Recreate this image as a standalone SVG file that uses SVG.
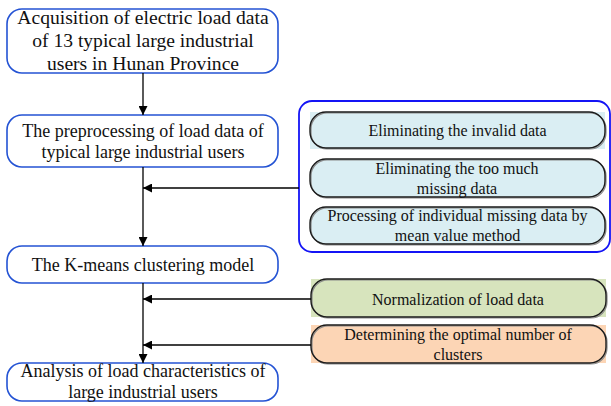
<svg xmlns="http://www.w3.org/2000/svg" width="611" height="406" viewBox="0 0 611 406">
<style>
text{font-family:"Liberation Serif","Times New Roman",serif;fill:#111;text-anchor:middle}
.l{font-size:18px}
.t{font-size:19.6px}
.r{font-size:16px}
.main{fill:#fff;stroke:#2453d4;stroke-width:1.6}
.cont{fill:#fff;stroke:#1414f5;stroke-width:1.8}
.pill{fill:none;stroke:#1a1a1a;stroke-width:1.4}
.sh{fill:none;stroke:#8a8a8a;stroke-width:1.2}
.c{stroke:#000;stroke-width:1.3;fill:none}
</style>
<defs>
<marker id="ah" viewBox="0 0 10 10" refX="10" refY="5" markerWidth="10" markerHeight="9" markerUnits="userSpaceOnUse" orient="auto">
<path d="M0,0 L10,5 L0,10 z" fill="#000"/>
</marker>
</defs>
<rect width="611" height="406" fill="#fff"/>

<g id="container">
<rect class="cont" x="299" y="101" width="311" height="151" rx="13"/>
</g>

<g id="n1">
<rect class="main" x="7" y="9" width="271" height="64" rx="15"/>
<text class="t" x="143" y="24">Acquisition of electric load data</text>
<text class="t" x="143" y="47">of 13 typical large industrial</text>
<text class="t" x="143" y="70">users in Hunan Province</text>
</g>

<g id="n2">
<rect class="main" x="7" y="115" width="271" height="52" rx="15"/>
<text class="l" x="143" y="137">The preprocessing of load data of</text>
<text class="l" x="143" y="158">typical large industrial users</text>
</g>

<g id="n3">
<rect class="main" x="7" y="246" width="271" height="37" rx="15"/>
<text class="l" x="143" y="271">The K-means clustering model</text>
</g>

<g id="n4">
<rect class="main" x="7" y="363" width="271" height="38" rx="15"/>
<text class="l" x="143" y="377">Analysis of load characteristics of</text>
<text class="l" x="143" y="398">large industrial users</text>
</g>

<g id="r1">
<rect x="310" y="112" width="295" height="37" fill="#daeef3"/>
<rect class="sh" x="311" y="113" width="295" height="36" rx="16"/>
<rect class="pill" x="310" y="112" width="295" height="36" rx="16"/>
<text class="r" x="457.5" y="136">Eliminating the invalid data</text>
</g>

<g id="r2">
<rect x="310" y="159" width="295" height="38" rx="16" fill="#daeef3"/>
<rect class="sh" x="311" y="160" width="295" height="38" rx="16"/>
<rect class="pill" x="310" y="159" width="295" height="38" rx="16"/>
<text class="r" x="457" y="174">Eliminating the too much</text>
<text class="r" x="457" y="194">missing data</text>
</g>

<g id="r3">
<rect x="310" y="207" width="295" height="37" rx="16" fill="#daeef3"/>
<rect class="sh" x="311" y="208" width="295" height="37" rx="16"/>
<rect class="pill" x="310" y="207" width="295" height="37" rx="16"/>
<text class="r" x="457.5" y="221">Processing of individual missing data by</text>
<text class="r" x="457.5" y="241">mean value method</text>
</g>

<g id="r4">
<rect x="311" y="279" width="295" height="38" fill="#d7e4bd"/>
<rect class="sh" x="312" y="280" width="295" height="38" rx="16"/>
<rect class="pill" x="311" y="279" width="295" height="38" rx="16"/>
<text class="r" x="458" y="305">Normalization of load data</text>
</g>

<g id="r5">
<rect x="311" y="325" width="295" height="38" fill="#fcd5b5"/>
<rect class="sh" x="312" y="326" width="295" height="38" rx="16"/>
<rect class="pill" x="311" y="325" width="295" height="38" rx="16"/>
<text class="r" x="458" y="340">Determining the optimal number of</text>
<text class="r" x="458" y="360">clusters</text>
</g>

<g id="connectors">
<line class="c" x1="143" y1="73" x2="143" y2="115" marker-end="url(#ah)"/>
<line class="c" x1="143" y1="167" x2="143" y2="246" marker-end="url(#ah)"/>
<line class="c" x1="143" y1="283" x2="143" y2="363" marker-end="url(#ah)"/>
<line class="c" x1="299" y1="188" x2="143" y2="188" marker-end="url(#ah)"/>
<line class="c" x1="311" y1="299" x2="143" y2="299" marker-end="url(#ah)"/>
<line class="c" x1="311" y1="345" x2="143" y2="345" marker-end="url(#ah)"/>
</g>
</svg>
